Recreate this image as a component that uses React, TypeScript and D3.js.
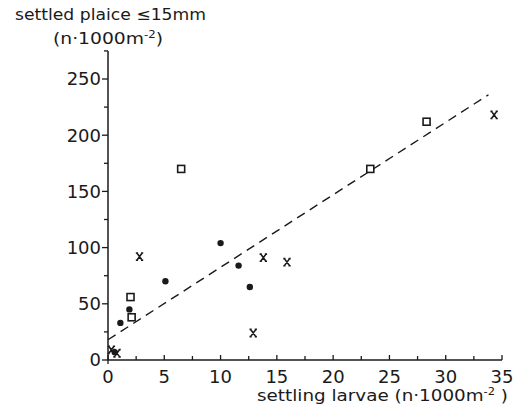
import React from "react";
import * as d3 from "d3";

// Data
const squareX = [6.5, 28.3, 23.3, 2.0, 2.1];
const squareY = [170, 212, 170, 56, 38];
const dotX = [10.0, 11.6, 5.1, 12.6, 1.1, 1.9, 0.6];
const dotY = [104, 84, 70, 65, 33, 45, 7];
const crossX = [2.8, 13.8, 15.9, 34.3, 12.9, 0.3, 0.8];
const crossY = [92, 91, 87, 218, 24, 9, 6];
const fitX = [0, 33.8];
const fitY = [18, 236];
const xTickLabels = [0, 5, 10, 15, 20, 25, 30, 35];
const yTickLabels = [0, 50, 100, 150, 200, 250];

const W = 520;
const H = 407;
const ink = "#1a1a1a";
const font = "'DejaVu Sans', sans-serif";

export default function App() {
  const x = d3.scaleLinear().domain([0, 35]).range([108, 502]);
  const y = d3.scaleLinear().domain([0, 250]).range([360, 79]);

  const xMinor = d3.range(0, 35.01, 2.5);
  const yMinor = d3.range(0, 275.01, 25);

  const line = d3
    .line<number>()
    .x((_, i) => x(fitX[i]))
    .y((_, i) => y(fitY[i]));

  const cross = (cx: number, cy: number) => {
    const a = 2.6;
    const b = 3.6;
    const s = 1.1;
    return `M${cx - a},${cy - b}L${cx + a},${cy + b}M${cx + a},${cy - b}L${cx - a},${cy + b}` +
      `M${cx - a - s},${cy - b}L${cx - a + s},${cy - b}M${cx + a - s},${cy - b}L${cx + a + s},${cy - b}` +
      `M${cx - a - s},${cy + b}L${cx - a + s},${cy + b}M${cx + a - s},${cy + b}L${cx + a + s},${cy + b}`;
  };

  return (
    <svg
      width={W}
      height={H}
      style={{ position: "absolute", left: 0, top: 0, display: "block", background: "#fff" }}
      fontFamily={font}
    >
      <rect x={0} y={0} width={W} height={H} fill="#fff" />
      {/* y axis title */}
      <text x={15} y={20} fontSize={16} fill={ink} textLength={191} lengthAdjust="spacingAndGlyphs">
        settled plaice ≤15mm
      </text>
      <text x={53} y={44} fontSize={16} fill={ink} textLength={110} lengthAdjust="spacingAndGlyphs">
        (n·1000m<tspan fontSize={10} dy={-6}>-2</tspan><tspan dy={6}>)</tspan>
      </text>

      {/* y axis */}
      <line x1={x(0)} x2={x(0)} y1={y(275)} y2={y(0)} stroke={ink} strokeWidth={1.5} />
      {yMinor.map((v) => (
        <line
          key={"ym" + v}
          x1={x(0) - (v % 50 === 0 ? 6 : 4)}
          x2={x(0)}
          y1={y(v)}
          y2={y(v)}
          stroke={ink}
          strokeWidth={1.3}
        />
      ))}
      {yTickLabels.map((v) => (
        <text
          key={"yl" + v}
          x={101}
          y={y(v)}
          dy="0.36em"
          textAnchor="end"
          fontSize={18}
          fill={ink}
        >
          {v}
        </text>
      ))}

      {/* x axis */}
      <line x1={x(0)} x2={x(35)} y1={y(0)} y2={y(0)} stroke={ink} strokeWidth={1.5} />
      {xMinor.map((v) => (
        <line
          key={"xm" + v}
          x1={x(v)}
          x2={x(v)}
          y1={y(0)}
          y2={y(0) - (v % 5 === 0 ? 5 : 4)}
          stroke={ink}
          strokeWidth={1.3}
        />
      ))}
      <line x1={x(0)} x2={x(0)} y1={y(0)} y2={y(0) + 4} stroke={ink} strokeWidth={1.3} />
      {xTickLabels.map((v) => (
        <text
          key={"xl" + v}
          x={x(v)}
          y={377}
          dy="0.36em"
          textAnchor="middle"
          fontSize={18}
          fill={ink}
        >
          {v}
        </text>
      ))}
      <text x={257} y={401} fontSize={16} fill={ink} textLength={251} lengthAdjust="spacingAndGlyphs">
        settling larvae (n·1000m<tspan fontSize={10} dy={-6}>-2</tspan><tspan dy={6}> )</tspan>
      </text>

      {/* regression line */}
      <path
        d={line(fitX) || ""}
        fill="none"
        stroke={ink}
        strokeWidth={1.4}
        strokeDasharray="9,6"
      />

      {/* points */}
      {squareX.map((v, i) => (
        <rect
          key={"s" + i}
          x={x(v) - 3.5}
          y={y(squareY[i]) - 3.5}
          width={7}
          height={7}
          fill="#fff"
          stroke={ink}
          strokeWidth={1.6}
        />
      ))}
      {dotX.map((v, i) => (
        <circle key={"d" + i} cx={x(v)} cy={y(dotY[i])} r={3.2} fill={ink} />
      ))}
      {crossX.map((v, i) => (
        <path key={"c" + i} d={cross(x(v), y(crossY[i]))} stroke={ink} strokeWidth={1.6} fill="none" />
      ))}
    </svg>
  );
}
